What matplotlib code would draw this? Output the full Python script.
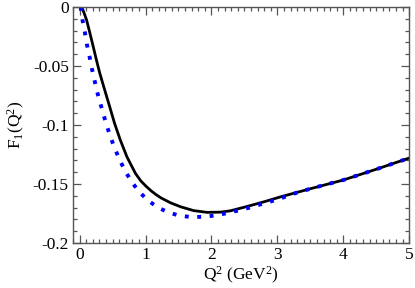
import matplotlib
matplotlib.use('Agg')
import matplotlib.pyplot as plt
from matplotlib.ticker import FixedLocator, FixedFormatter, MultipleLocator

plt.rcParams['font.family'] = ['Liberation Serif', 'DejaVu Serif']
plt.rcParams['mathtext.fontset'] = 'custom'
plt.rcParams['mathtext.rm'] = 'Liberation Serif'
plt.rcParams['mathtext.it'] = 'Liberation Serif:italic'
plt.rcParams['axes.unicode_minus'] = False

# solid curve
solid_x = [0.0, 0.03, 0.06, 0.105, 0.155, 0.206, 0.255, 0.305, 0.38, 0.456, 0.53,
           0.617, 0.717, 0.847, 0.93, 1.01, 1.083, 1.16, 1.233, 1.383, 1.534,
           1.73, 1.935, 2.135, 2.286, 2.54, 2.8, 3.04, 3.5, 4.0, 4.5, 5.0]
solid_y = [0.003, 0.0, -0.004, -0.011, -0.022, -0.0336, -0.045, -0.056, -0.0703,
           -0.0845, -0.0986, -0.1127, -0.1269, -0.141, -0.1475, -0.152, -0.1557,
           -0.159, -0.1617, -0.166, -0.1693, -0.1725, -0.1740, -0.1738, -0.1727,
           -0.1690, -0.1650, -0.161, -0.154, -0.1466, -0.1375, -0.128]

# dotted blue curve
dot_x = [0.015, 0.045, 0.08, 0.11, 0.15, 0.185, 0.225, 0.265, 0.316, 0.366, 0.42,
         0.48, 0.546, 0.62, 0.70, 0.80, 0.91, 1.04, 1.19, 1.36, 1.53, 1.71, 1.89,
         2.08, 2.26, 2.44, 2.61, 2.79, 2.97, 3.14, 3.31, 3.6, 4.0, 4.5, 5.0]
dot_y = [0.0, -0.0116, -0.0218, -0.0316, -0.042, -0.052, -0.0619, -0.0718, -0.082,
         -0.092, -0.102, -0.112, -0.1215, -0.131, -0.140, -0.149, -0.157, -0.164,
         -0.170, -0.1743, -0.177, -0.178, -0.1777, -0.1765, -0.1743, -0.172,
         -0.1695, -0.1664, -0.1636, -0.1604, -0.157, -0.1525, -0.1466, -0.1375,
         -0.128]

xticks = [0, 1, 2, 3, 4, 5]
xlabels = ['0', '1', '2', '3', '4', '5']
yticks = [0, -0.05, -0.1, -0.15, -0.2]
ylabels = ['0', '-0.05', '-0.1', '-0.15', '-0.2']

fig = plt.figure(figsize=(4.15, 2.88), dpi=100)
ax = fig.add_axes([0.176, 0.156, 0.81, 0.82])

ax.plot(solid_x, solid_y, color='black', lw=2.0, solid_joinstyle='round')
ax.plot(dot_x, dot_y, color='#0000ff', lw=2.8, linestyle=(0, (1, 2.2)),
        dash_capstyle='butt')

ax.set_xlim(-0.1, 5)
ax.set_ylim(-0.2, 0)

ax.xaxis.set_major_locator(FixedLocator(xticks))
ax.xaxis.set_major_formatter(FixedFormatter(xlabels))
ax.yaxis.set_major_locator(FixedLocator(yticks))
ax.yaxis.set_major_formatter(FixedFormatter(ylabels))
ax.xaxis.set_minor_locator(MultipleLocator(0.1))
ax.yaxis.set_minor_locator(MultipleLocator(0.01))

axcol = '#555555'
for s in ax.spines.values():
    s.set_color(axcol)
    s.set_linewidth(1.0)
ax.tick_params(which='both', direction='in', top=True, right=True, color=axcol,
               width=0.9, labelsize=12.5)
ax.tick_params(which='major', length=5.8, pad=3)
ax.tick_params(which='minor', length=2.9)

ax.set_xlabel(r'Q$^2$ (GeV$^2$)', fontsize=12.5, labelpad=1)
ax.set_ylabel(r'F$_1$(Q$^2$)', fontsize=12.5, labelpad=4)

fig.savefig('out.png', dpi=100)
